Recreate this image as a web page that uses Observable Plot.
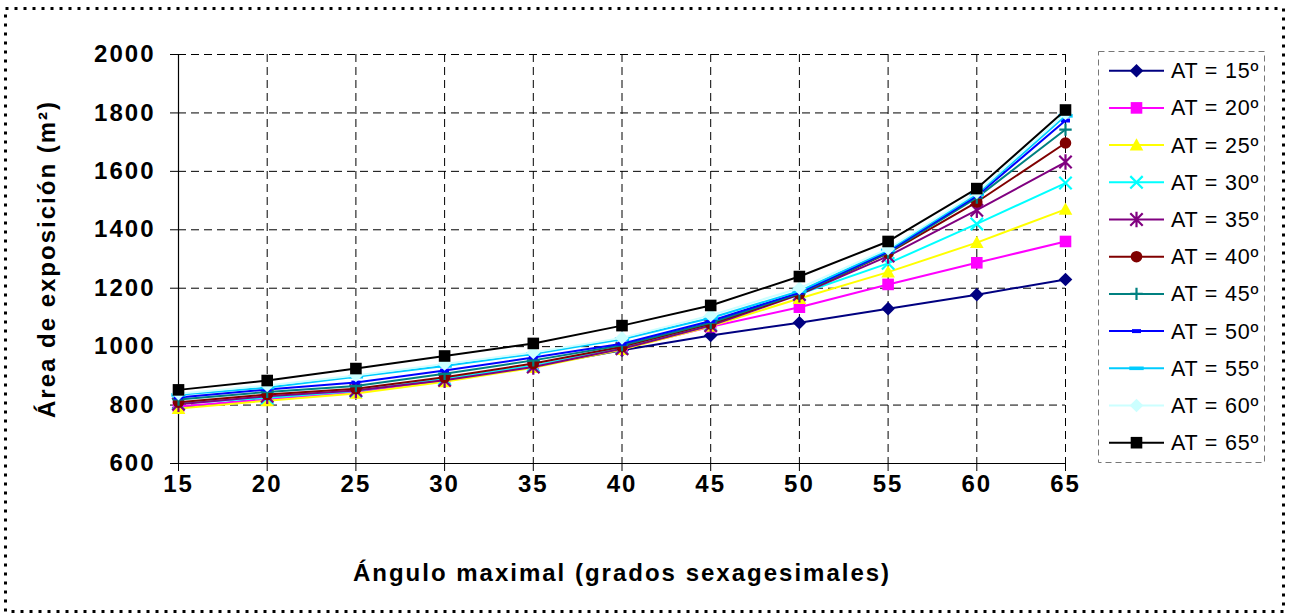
<!DOCTYPE html>
<html>
<head>
<meta charset="utf-8">
<script src="https://cdn.jsdelivr.net/npm/d3@7"></script>
<script src="https://cdn.jsdelivr.net/npm/@observablehq/plot@0.6"></script>
<style>
  html, body { margin: 0; padding: 0; background: #fff; }
  #wrap { position: relative; width: 1289px; height: 615px; background: #fff; overflow: hidden; }
  #wrap > svg { position: absolute; left: 0; top: 0; }
</style>
</head>
<body>
<div id="wrap"></div>
<script>
// ---- data ----
const angles = [15, 20, 25, 30, 35, 40, 45, 50, 55, 60, 65];
const yTicks = [600, 800, 1000, 1200, 1400, 1600, 1800, 2000];
const seriesNames = ["AT = 15º", "AT = 20º", "AT = 25º", "AT = 30º", "AT = 35º", "AT = 40º",
                     "AT = 45º", "AT = 50º", "AT = 55º", "AT = 60º", "AT = 65º"];
const at15 = [790, 822, 848, 885, 933, 988, 1038, 1082, 1130, 1178, 1230];
const at20 = [795, 820, 845, 885, 932, 993, 1068, 1135, 1213, 1287, 1360];
const at25 = [788, 815, 840, 880, 928, 990, 1070, 1165, 1255, 1356, 1470];
const at30 = [805, 825, 848, 890, 935, 995, 1075, 1180, 1285, 1420, 1560];
const at35 = [803, 830, 850, 885, 930, 993, 1072, 1178, 1310, 1467, 1632];
const at40 = [810, 836, 856, 895, 942, 1000, 1078, 1180, 1320, 1495, 1697];
const at45 = [819, 845, 865, 907, 953, 1005, 1082, 1182, 1322, 1510, 1743];
const at50 = [826, 853, 877, 918, 963, 1010, 1088, 1185, 1325, 1516, 1774];
const at55 = [835, 860, 897, 934, 975, 1025, 1098, 1190, 1330, 1522, 1790];
const at60 = [839, 867, 901, 941, 980, 1030, 1107, 1200, 1335, 1528, 1798];
const at65 = [852, 884, 925, 968, 1011, 1072, 1141, 1240, 1360, 1541, 1810];
const seriesValues = [at15, at20, at25, at30, at35, at40, at45, at50, at55, at60, at65];
const seriesColors = ["#000080", "#FF00FF", "#FFFF00", "#00FFFF", "#800080", "#800000",
                      "#008080", "#0000FF", "#00CCFF", "#CCFFFF", "#000000"];
const seriesSymbols = ["diamond", "square", "triangle", "times", "asterisk", "circle",
                       "plus", "dashShort", "dashLong", "diamond", "square"];
const xTitle = "Ángulo maximal (grados sexagesimales)";
const yTitle = "Área de exposición (m²)";

// ---- marker shapes ----
const R = s => Math.sqrt(s / Math.PI);
const symbols = {
  diamond: {r: 6.8, filled: true, sym: {draw(c, s) { const r = R(s); c.moveTo(0, -r); c.lineTo(r, 0); c.lineTo(0, r); c.lineTo(-r, 0); c.closePath(); }}},
  square: {r: 5.8, filled: true, sym: {draw(c, s) { const r = R(s); c.rect(-r, -r, 2 * r, 2 * r); }}},
  triangle: {r: 6.8, filled: true, sym: {draw(c, s) { const r = R(s); c.moveTo(0, -r); c.lineTo(r, r * 0.8); c.lineTo(-r, r * 0.8); c.closePath(); }}},
  times: {r: 6.2, filled: false, sym: {draw(c, s) { const r = R(s); c.moveTo(-r, -r); c.lineTo(r, r); c.moveTo(r, -r); c.lineTo(-r, r); }}},
  asterisk: {r: 6.2, filled: false, sym: {draw(c, s) { const r = R(s); c.moveTo(-r, -r); c.lineTo(r, r); c.moveTo(r, -r); c.lineTo(-r, r); c.moveTo(0, -r * 1.25); c.lineTo(0, r * 1.25); }}},
  circle: {r: 5.8, filled: true, sym: {draw(c, s) { const r = R(s); c.moveTo(r, 0); c.arc(0, 0, r, 0, 2 * Math.PI); }}},
  plus: {r: 6.2, filled: false, sym: {draw(c, s) { const r = R(s); c.moveTo(-r, 0); c.lineTo(r, 0); c.moveTo(0, -r); c.lineTo(0, r); }}},
  dashShort: {r: 6, filled: true, sym: {draw(c, s) { const r = R(s); c.rect(-r * 0.75, -r * 0.33, r * 1.5, r * 0.66); }}},
  dashLong: {r: 6, filled: true, sym: {draw(c, s) { const r = R(s); c.rect(-r * 1.2, -r * 0.3, r * 2.4, r * 0.6); }}}
};

// ---- chart ----
const seriesMarks = seriesNames.flatMap((name, i) => {
  const data = angles.map((a, j) => ({angle: a, value: seriesValues[i][j], series: name}));
  const m = symbols[seriesSymbols[i]];
  const col = seriesColors[i];
  return [
    Plot.line(data, {x: "angle", y: "value", stroke: col, strokeWidth: 2}),
    Plot.dot(data, {x: "angle", y: "value", symbol: m.sym, r: m.r,
      fill: m.filled ? col : "none", stroke: m.filled ? "none" : col, strokeWidth: 2.2})
  ];
});

const chart = Plot.plot({
  width: 1289,
  height: 615,
  marginLeft: 178,
  marginRight: 224,
  marginTop: 54,
  marginBottom: 152,
  style: {fontFamily: "'Liberation Sans', Arial, sans-serif", fontWeight: "bold", fontSize: "24px",
          letterSpacing: "2px", background: "transparent", color: "#000", overflow: "visible"},
  x: {type: "linear", domain: [15, 65]},
  y: {type: "linear", domain: [600, 2000]},
  marks: [
    Plot.gridX(angles.filter(a => a !== 15), {stroke: "#000", strokeOpacity: 1, strokeWidth: 1, strokeDasharray: "8,5"}),
    Plot.gridY(yTicks.filter(v => v !== 600), {stroke: "#000", strokeOpacity: 1, strokeWidth: 1, strokeDasharray: "8,5"}),
    Plot.ruleX([15], {stroke: "#000", strokeWidth: 1.2}),
    Plot.ruleY([600], {stroke: "#000", strokeWidth: 1.2}),
    Plot.axisY({ticks: yTicks, tickFormat: "d", tickSize: 8, tickPadding: 15, label: null}),
    Plot.axisX({ticks: angles, tickFormat: "d", tickSize: 8, tickPadding: 3, label: null}),
    ...seriesMarks,
    Plot.text([yTitle], {text: d => d, frameAnchor: "left", textAnchor: "middle", dx: -131, rotate: -90, fontSize: 24, fontWeight: "bold"}),
    Plot.text([xTitle], {text: d => d, frameAnchor: "bottom", textAnchor: "middle", dy: 117, fontSize: 24, fontWeight: "bold"})
  ]
});

const wrap = document.getElementById("wrap");
wrap.appendChild(chart);

// ---- dotted outer border ----
const border = d3.create("svg").attr("width", 1289).attr("height", 615).style("pointer-events", "none");
border.append("rect").attr("x", 5.5).attr("y", 8.5).attr("width", 1278).attr("height", 603)
  .attr("fill", "none").attr("stroke", "#000").attr("stroke-width", 3).attr("stroke-dasharray", "3,6");
wrap.appendChild(border.node());

// ---- legend ----
const lg = d3.create("svg").attr("width", 1289).attr("height", 615)
  .style("font-family", "'Liberation Sans', Arial, sans-serif");
lg.append("rect").attr("x", 1098.5).attr("y", 51.5).attr("width", 166).attr("height", 411)
  .attr("fill", "#fff").attr("stroke", "#777").attr("stroke-width", 1).attr("stroke-dasharray", "6,4");
seriesNames.forEach((name, i) => {
  const cy = 70.7 + i * 37.2;
  const m = symbols[seriesSymbols[i]];
  const col = seriesColors[i];
  const g = lg.append("g");
  g.append("line").attr("x1", 1109).attr("x2", 1164).attr("y1", cy).attr("y2", cy)
    .attr("stroke", col).attr("stroke-width", 2);
  g.append("path").attr("transform", `translate(1136.5,${cy})`)
    .attr("d", d3.symbol(m.sym, m.r * m.r * Math.PI)())
    .attr("fill", m.filled ? col : "none").attr("stroke", m.filled ? "none" : col).attr("stroke-width", 2.2);
  g.append("text").attr("x", 1171).attr("y", cy + 7.5).attr("font-size", 21.5)
    .attr("letter-spacing", "0.8px").attr("fill", "#000").text(name);
});
wrap.appendChild(lg.node());
</script>
</body>
</html>
